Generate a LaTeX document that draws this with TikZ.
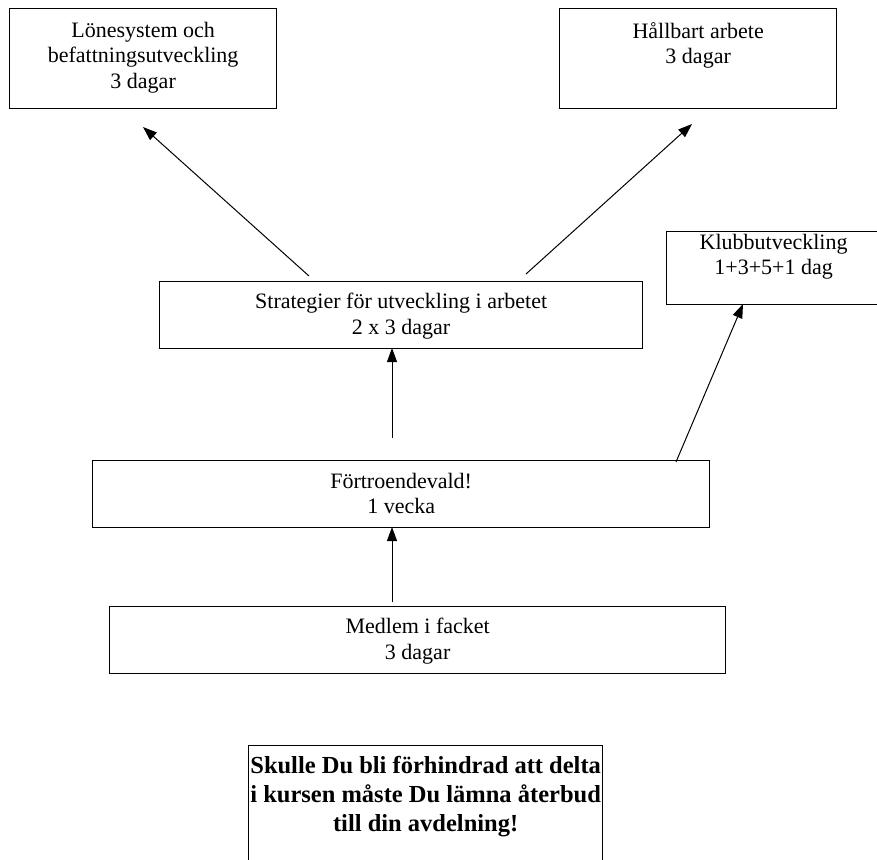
\documentclass[tikz,border=0pt]{standalone}
\usepackage{fontspec}
\setmainfont{Liberation Serif}
\usetikzlibrary{arrows.meta}
\tikzset{
  box/.style={draw=black, line width=1.3pt, fill=white, inner sep=0pt, anchor=north west},
  lbl/.style={anchor=north, inner sep=0pt, align=center, font=\fontsize{22}{25.5}\selectfont},
  boldlbl/.style={anchor=north, inner sep=0pt, align=center, font=\fontsize{24.5}{28.8}\selectfont\bfseries},
  arr/.style={draw=black, line width=1pt, -{Triangle[length=14pt,width=10pt]}}
}
\begin{document}
\begin{tikzpicture}[x=1pt,y=-1pt]
\useasboundingbox (0,0) rectangle (877,859);
\clip (0,0) rectangle (877,859);
\fill[white] (0,0) rectangle (877,859);
% boxes
\node[box, minimum width=267pt, minimum height=100pt] (lon) at (9,8) {};
\node[box, minimum width=277pt, minimum height=100pt] (hall) at (559,8) {};
\node[box, minimum width=483pt, minimum height=67pt] (strat) at (159,281) {};
\node[box, minimum width=214pt, minimum height=73pt] (klubb) at (666,231) {};
\node[box, minimum width=617pt, minimum height=67pt] (fort) at (92,460) {};
\node[box, minimum width=616pt, minimum height=67pt] (medlem) at (109,606) {};
\node[box, minimum width=354pt, minimum height=130pt] (skulle) at (248,745) {};
% texts
\node[lbl] (tlon) at ([yshift=-14pt]lon.north) {Lönesystem och\\befattningsutveckling\\3 dagar};
\node[lbl] (thall) at ([yshift=-14pt]hall.north) {Hållbart arbete\\3 dagar};
\node[lbl] (tstrat) at ([yshift=-12pt]strat.north) {Strategier för utveckling i arbetet\\2 x 3 dagar};
\node[lbl] (tklubb) at ([yshift=-3pt]klubb.north) {Klubbutveckling\\1+3+5+1 dag};
\node[lbl] (tfort) at ([yshift=-13pt]fort.north) {Förtroendevald!\\1 vecka};
\node[lbl] (tmedlem) at ([yshift=-12pt]medlem.north) {Medlem i facket\\3 dagar};
\node[boldlbl] (tskulle) at ([yshift=-11pt]skulle.north) {Skulle Du bli förhindrad att delta\\i kursen måste Du lämna återbud\\till din avdelning!};
% connector end points
\coordinate (a1s) at (309,276);
\coordinate (a1e) at (143,127);
\coordinate (a2s) at (526,274);
\coordinate (a2e) at (692,124);
\coordinate (a3s) at (392,438);
\coordinate (a3e) at (392,348);
\coordinate (a4s) at (676,462);
\coordinate (a4e) at (743,304);
\coordinate (a5s) at (392,602);
\coordinate (a5e) at (392,527);
% connectors
\draw[arr] (a1s) -- (a1e);
\draw[arr] (a2s) -- (a2e);
\draw[arr] (a3s) -- (a3e);
\draw[arr] (a4s) -- (a4e);
\draw[arr] (a5s) -- (a5e);
\end{tikzpicture}
\end{document}
